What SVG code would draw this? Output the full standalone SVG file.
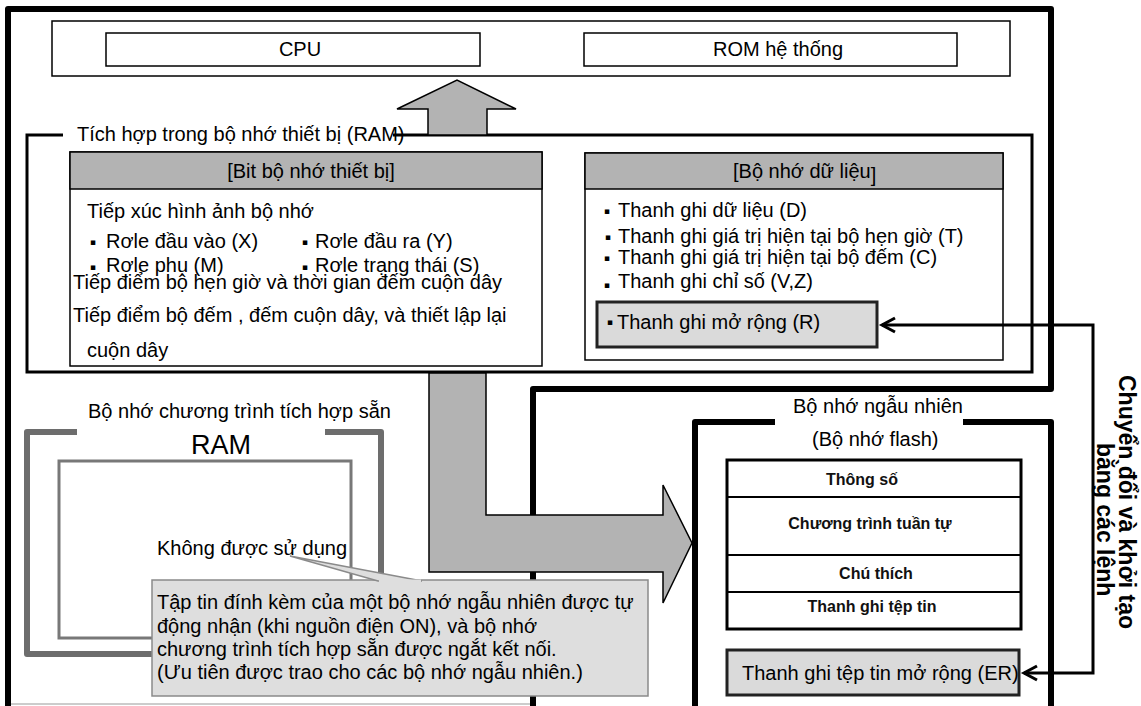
<svg xmlns="http://www.w3.org/2000/svg" width="1141" height="706" viewBox="0 0 1141 706">
<style>
text{font-family:"Liberation Sans",Arial,sans-serif;fill:#000}
.t{font-size:20px}
.h{font-size:20px}
.b{font-weight:bold;font-size:16px;fill:#111}
.v{font-weight:bold;font-size:23px}
.bul{font-family:"DejaVu Sans",sans-serif;font-size:9px;text-anchor:middle}
.box{fill:#fff;stroke:#000;stroke-width:1.5}
.hdr{fill:#b3b3b3;stroke:#000;stroke-width:1.5}
.frame{fill:none;stroke:#000;stroke-width:6;stroke-linejoin:round}
.arr{fill:#b3b3b3;stroke:#000;stroke-width:1.5}
.reg{fill:#dadada;stroke:#222;stroke-width:3}
.conn{fill:none;stroke:#000;stroke-width:3}
</style>
<rect width="1141" height="706" fill="#fff"/>
<g id="frame">
<path class="frame" d="M8,712 L8,9 L1051,9 L1051,389 L533,389 L533,712"/>
<line x1="11" y1="704" x2="530" y2="704" stroke="#bbb" stroke-width="1.5"/>
</g>
<g id="cpu-rom">
<rect class="box" x="52" y="21" width="958" height="55"/>
<g id="cpu"><rect class="box" x="106" y="33" width="374" height="33"/><text class="t" x="300" y="56" text-anchor="middle">CPU</text></g>
<g id="rom"><rect class="box" x="584" y="33" width="373" height="33"/><text class="t" x="778" y="56" text-anchor="middle">ROM hệ thống</text></g>
</g>
<g id="ram-integrated">
<path fill="none" stroke="#000" stroke-width="3" d="M63,135 L27,135 L27,372 L1032,372 L1032,135 L393,135"/>
<text class="t" x="77" y="141">Tích hợp trong bộ nhớ thiết bị (RAM)</text>
<g id="bit-memory">
<rect class="box" x="70" y="152" width="472" height="214"/>
<rect class="hdr" x="70" y="152" width="472" height="37"/>
<text class="h" x="311" y="178" text-anchor="middle">[Bit bộ nhớ thiết bị]</text>
<text class="t" x="87" y="218">Tiếp xúc hình ảnh bộ nhớ</text>
<text class="bul" x="93" y="245">▪</text><text class="t" x="106" y="248">Rơle đầu vào (X)</text>
<text class="bul" x="305" y="245">▪</text><text class="t" x="315" y="248">Rơle đầu ra (Y)</text>
<text class="bul" x="93" y="270">▪</text><text class="t" x="106" y="272">Rơle phụ (M)</text>
<text class="bul" x="305" y="270">▪</text><text class="t" x="315" y="272">Rơle trạng thái (S)</text>
<text class="t" x="73" y="289">Tiếp điểm bộ hẹn giờ và thời gian đếm cuộn dây</text>
<text class="t" x="73" y="322">Tiếp điểm bộ đếm , đếm cuộn dây, và thiết lập lại</text>
<text class="t" x="87" y="357">cuộn dây</text>
</g>
<g id="data-memory">
<rect class="box" x="585" y="153" width="418" height="207"/>
<rect class="hdr" x="585" y="153" width="418" height="36"/>
<text class="h" x="733" y="178">[Bộ nhớ dữ liệu<tspan dy="4">]</tspan></text>
<text class="bul" x="607" y="214">▪</text><text class="t" x="618" y="217">Thanh ghi dữ liệu (D)</text>
<text class="bul" x="608" y="240">▪</text><text class="t" x="618" y="243">Thanh ghi giá trị hiện tại bộ hẹn giờ (T)</text>
<text class="bul" x="607" y="261">▪</text><text class="t" x="618" y="264">Thanh ghi giá trị hiện tại bộ đếm (C)</text>
<text class="bul" x="607" y="288">▪</text><text class="t" x="618" y="288">Thanh ghi chỉ số (V,Z)</text>
<g id="reg-r">
<rect class="reg" x="597" y="302" width="280" height="45"/>
<text class="bul" x="610" y="325">▪</text><text class="t" x="617" y="329">Thanh ghi mở rộng (R)</text>
</g>
</g>
</g>
<g id="builtin-program-memory">
<path fill="none" stroke="#6d6d6d" stroke-width="6" stroke-linejoin="round" d="M77,432 L27,432 L27,654 L160,654"/>
<path fill="none" stroke="#6d6d6d" stroke-width="6" stroke-linejoin="round" d="M325,432 L381,432 L381,600"/>
<rect x="59" y="461" width="292" height="177" fill="none" stroke="#787878" stroke-width="3"/>
<text class="t" x="88" y="418">Bộ nhớ chương trình tích hợp sẵn</text>
<text x="221" y="454" font-size="27" text-anchor="middle">RAM</text>
<text class="t" x="157" y="555">Không được sử dụng</text>
</g>
<g id="random-memory">
<path class="frame" d="M775,422 L695,422 L695,712"/>
<path class="frame" d="M963,422 L1051,422 L1051,712"/>
<text class="t" x="793" y="413">Bộ nhớ ngẫu nhiên</text>
<text class="t" x="812" y="446">(Bộ nhớ flash)</text>
<g id="flash-table">
<rect x="727" y="460" width="294" height="169" fill="#fff" stroke="#000" stroke-width="3"/>
<line x1="727" y1="497" x2="1021" y2="497" stroke="#000" stroke-width="2"/>
<line x1="727" y1="555" x2="1021" y2="555" stroke="#000" stroke-width="2"/>
<line x1="727" y1="592" x2="1021" y2="592" stroke="#000" stroke-width="2"/>
<text class="b" x="862" y="485" text-anchor="middle">Thông số</text>
<text class="b" x="870" y="529" text-anchor="middle">Chương trình tuần tự</text>
<text class="b" x="876" y="579" text-anchor="middle">Chú thích</text>
<text class="b" x="872" y="612" text-anchor="middle">Thanh ghi tệp tin</text>
</g>
<g id="reg-er">
<rect class="reg" x="727" y="650" width="292" height="45"/>
<text class="t" x="742" y="680">Thanh ghi tệp tin mở rộng (ER)</text>
</g>
</g>
<g id="connectors">
<polygon class="arr" points="428,135 428,109 397,109 457,80 516,109 487,109 487,135"/>
<polygon class="arr" points="429,373 486,373 486,515 663,515 663,485 692,543 663,603 663,572 429,572"/>
<path class="conn" d="M882,325 L1093,325 L1093,673 L1024,673"/>
<path class="conn" d="M895,318 L882,325 L895,332"/>
<path class="conn" d="M1037,666 L1024,673 L1037,680"/>
</g>
<g id="callout">
<rect x="152" y="580" width="496" height="116" fill="#dedede" stroke="#8a8a8a" stroke-width="1.5"/>
<polygon points="290,556 378,581 422,581" fill="#dedede" stroke="#8a8a8a" stroke-width="1.5"/>
<rect x="379" y="579.5" width="42" height="3" fill="#dedede"/>
<text class="t" x="157" y="609">Tập tin đính kèm của một bộ nhớ ngẫu nhiên được tự</text>
<text class="t" x="157" y="633">động nhận (khi nguồn điện ON), và bộ nhớ</text>
<text class="t" x="157" y="656">chương trình tích hợp sẵn được ngắt kết nối.</text>
<text class="t" x="157" y="679">(Ưu tiên được trao cho các bộ nhớ ngẫu nhiên.)</text>
</g>
<g id="side-label">
<text class="v" transform="translate(1119,375) rotate(90)">Chuyển đổi và khởi tạo</text>
<text class="v" transform="translate(1097,443) rotate(90)">bằng các lệnh</text>
</g>
</svg>
